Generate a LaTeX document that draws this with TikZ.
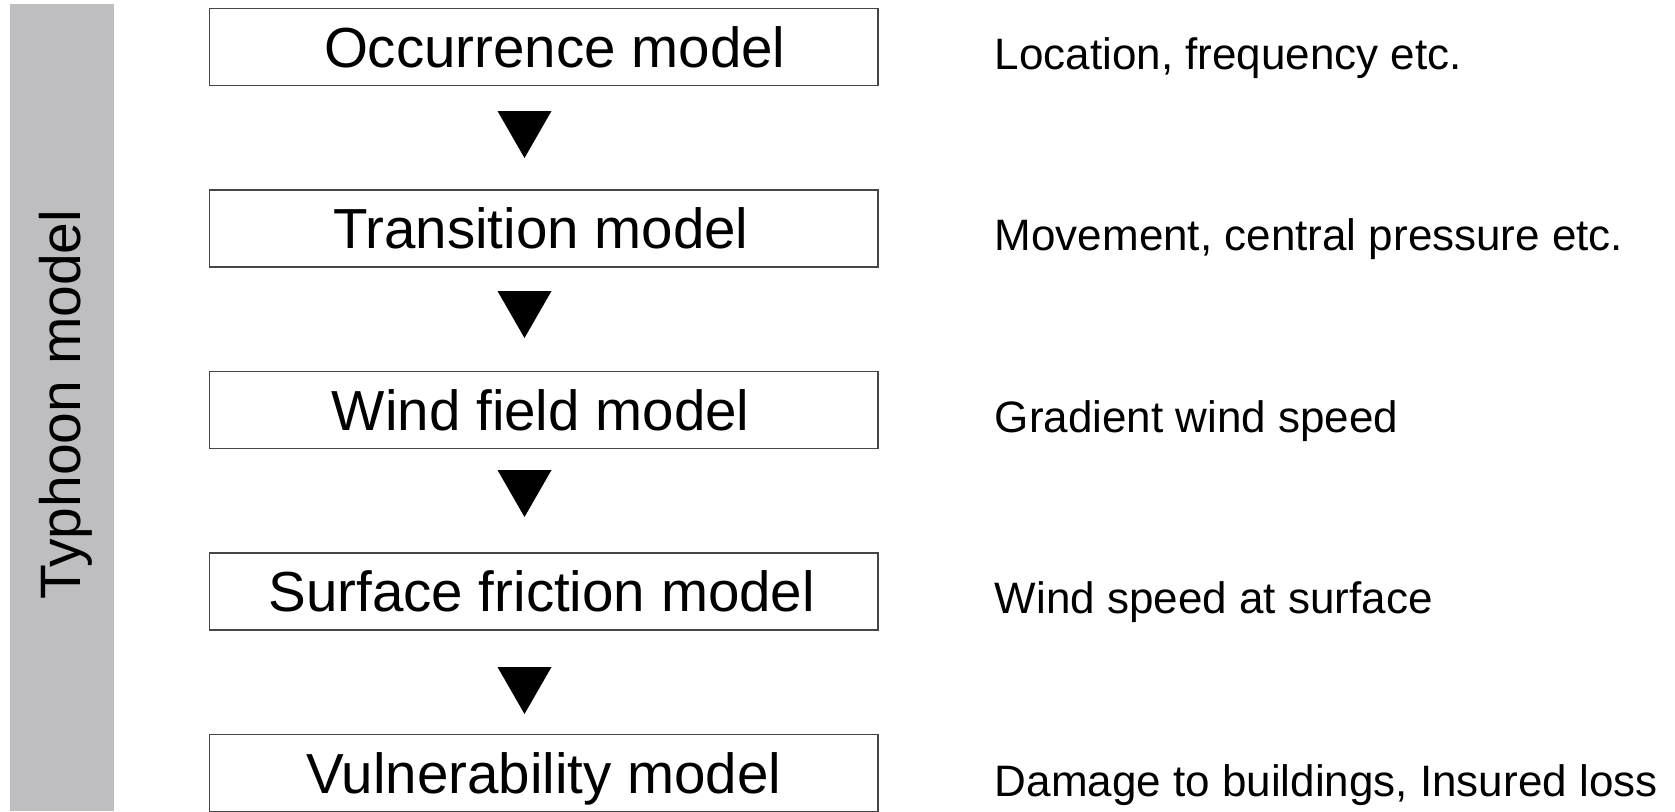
\documentclass[tikz,border=0pt]{standalone}
\usepackage{fontspec}
\setmainfont{Liberation Sans}
\definecolor{bargray}{RGB}{190,190,192}
\definecolor{boxline}{RGB}{70,70,70}
\begin{document}
\begin{tikzpicture}[x=1pt,y=1pt,
  modelbox/.style={draw=boxline, line width=1.6pt, minimum width=668.7pt, minimum height=77pt,
    inner sep=0pt, text height=40.5pt, text depth=0pt, font=\fontsize{56.5}{60}\selectfont},
  sidelabel/.style={anchor=base west, inner sep=0pt, font=\fontsize{44}{48}\selectfont},
  arrowtri/.style={fill=black}]
\useasboundingbox (0,0) rectangle (1675,-811);
% gray side bar
\fill[bargray] (9.6,-4.3) rectangle (114.3,-811);
\node[rotate=90, anchor=base, inner sep=0pt, font=\fontsize{57}{60}\selectfont] (side) at (80,-404.5) {Typhoon model};
% boxes
\node[modelbox] (b1) at (543.8,-47) {\hspace*{22pt}Occurrence model};
\node[modelbox] (b2) at (543.8,-228.5) {Transition model\hspace*{6pt}};
\node[modelbox] (b3) at (543.8,-410) {Wind field model\hspace*{6pt}};
\node[modelbox] (b4) at (543.8,-591.5) {Surface friction model\hspace*{4pt}};
\node[modelbox] (b5) at (543.8,-773) {Vulnerability model};
% labels
\node[sidelabel] (l1) at (994.6,-69) {Location, frequency etc.};
\node[sidelabel] (l2) at (994.6,-250.5) {Movement, central pressure etc.};
\node[sidelabel] (l3) at (994.6,-432) {Gradient wind speed};
\node[sidelabel] (l4) at (994.6,-613.5) {Wind speed at surface};
\node[sidelabel] (l5) at (994.6,-796) {Damage to buildings, Insured loss};
% triangles
\coordinate (t1) at (524.5,-111);
\coordinate (t2) at (524.5,-291);
\coordinate (t3) at (524.5,-470);
\coordinate (t4) at (524.5,-667);
\foreach \t in {t1,t2,t3,t4}{
  \fill[arrowtri] ([xshift=-27pt]\t) -- ([xshift=27pt]\t) -- ([yshift=-47pt]\t) -- cycle;
}
\end{tikzpicture}
\end{document}
